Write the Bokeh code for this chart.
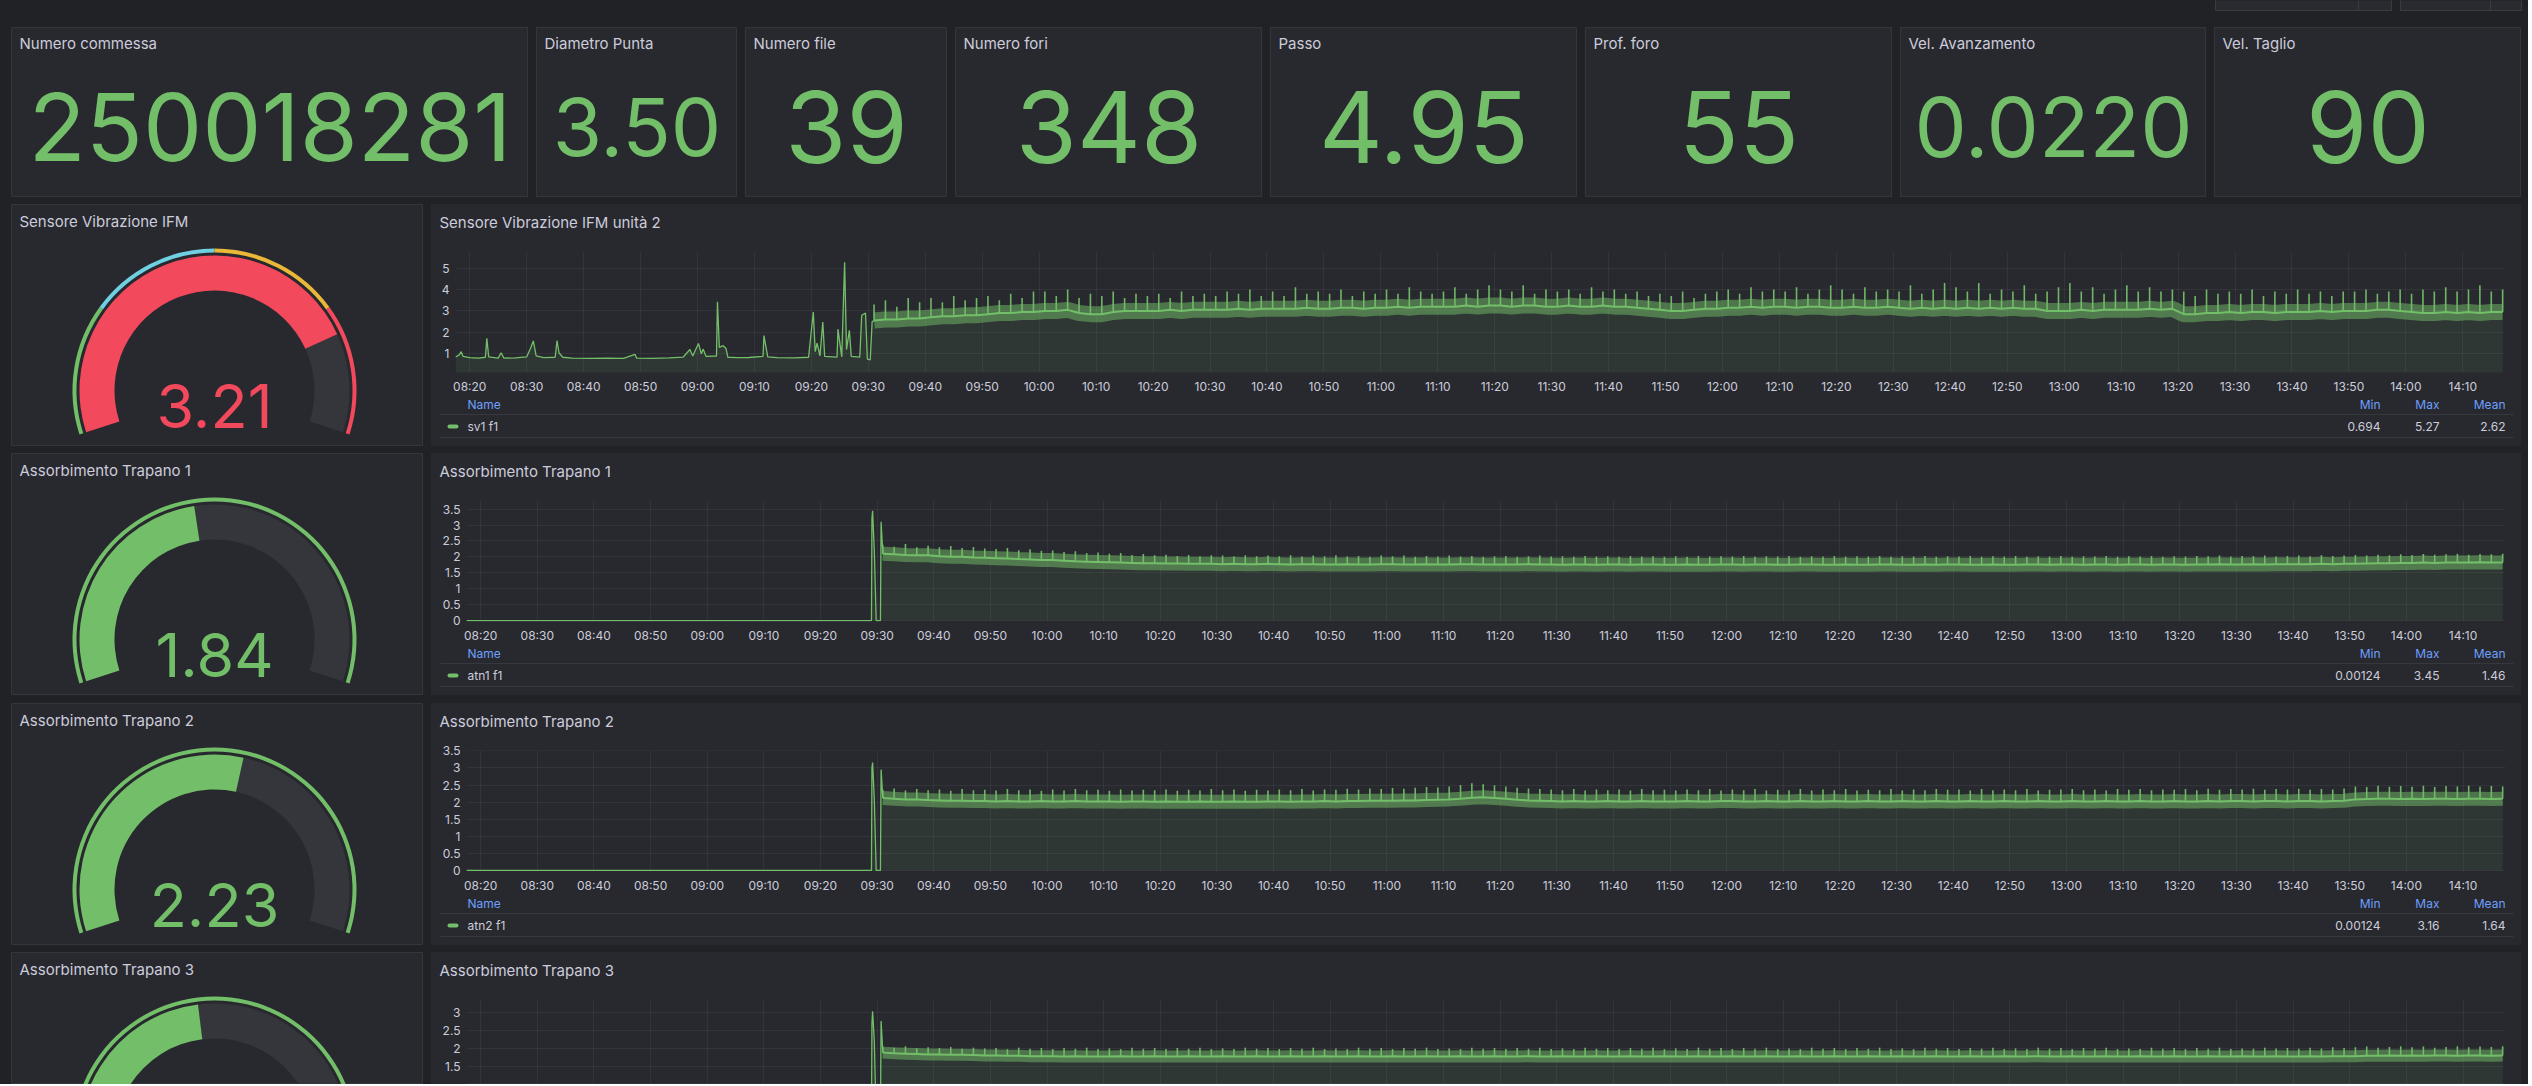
import pandas as pd
from bokeh.plotting import figure
from bokeh.models import (Range1d, FixedTicker, DatetimeTickFormatter,
                          NumeralTickFormatter, Spacer)
from bokeh.layouts import row, column
from bokeh.core.properties import value
from bokeh.embed import file_html
from bokeh.resources import INLINE

# ------------------------------------------------------------------ data
stat_titles = ["Numero commessa", "Diametro Punta", "Numero file", "Numero fori",
               "Passo", "Prof. foro", "Vel. Avanzamento", "Vel. Taglio"]
stat_values = ["250018281", "3.50", "39", "348", "4.95", "55", "0.0220", "90"]

gauge_titles = ["Sensore Vibrazione IFM", "Assorbimento Trapano 1",
                "Assorbimento Trapano 2", "Assorbimento Trapano 3"]
gauge_values = [3.21, 1.84, 2.23, 1.87]
gauge_min, gauge_max = 0.0, 4.0
vib_thresholds = [0, 1, 2, 3, 4]
drill_thresholds = [0, 4]

ts_titles = ["Sensore Vibrazione IFM unità 2", "Assorbimento Trapano 1",
             "Assorbimento Trapano 2", "Assorbimento Trapano 3"]
series_names = ["sv1 f1", "atn1 f1", "atn2 f1", "atn3 f1"]
legend_min = ["0.694", "0.00124", "0.00124"]
legend_max = ["5.27", "3.45", "3.16"]
legend_mean = ["2.62", "1.46", "1.64"]

time_start, time_end = "08:17:30", "14:17:30"
time_ticks = ["08:20", "08:30", "08:40", "08:50", "09:00", "09:10", "09:20", "09:30",
              "09:40", "09:50", "10:00", "10:10", "10:20", "10:30", "10:40", "10:50",
              "11:00", "11:10", "11:20", "11:30", "11:40", "11:50", "12:00", "12:10",
              "12:20", "12:30", "12:40", "12:50", "13:00", "13:10", "13:20", "13:30",
              "13:40", "13:50", "14:00", "14:10"]

# sv1 f1 before the machine started (explicit read points, incl. spikes)
sv1_pre_times = ["08:17:30", "08:18:10", "08:18:30", "08:18:50", "08:20:00", "08:21:30",
                 "08:22:45", "08:23:00", "08:23:20", "08:25:00", "08:25:30", "08:26:00",
                 "08:28:00", "08:30:00", "08:30:40", "08:31:10", "08:31:40", "08:33:00",
                 "08:35:00", "08:35:20", "08:35:40", "08:36:20", "08:38:00", "08:41:00",
                 "08:44:00", "08:47:00", "08:49:00", "08:49:20", "08:52:00", "08:55:00",
                 "08:57:30", "08:58:40", "08:59:10", "09:00:10", "09:00:40", "09:01:00",
                 "09:01:30", "09:03:20", "09:03:30", "09:03:50", "09:04:30", "09:05:00",
                 "09:05:20", "09:07:00", "09:09:00", "09:11:30", "09:11:40", "09:12:00",
                 "09:12:20", "09:14:00", "09:17:00", "09:19:30", "09:20:20", "09:20:40",
                 "09:21:00", "09:21:30", "09:22:00", "09:22:20", "09:24:30", "09:24:40",
                 "09:25:00", "09:25:20", "09:25:50", "09:26:10", "09:26:40", "09:27:00",
                 "09:28:30", "09:28:50", "09:29:30", "09:29:50", "09:30:20", "09:30:40",
                 "09:31:00"]
sv1_pre_values = [0.85, 0.95, 1.10, 0.88, 0.82, 0.80,
                  0.84, 1.72, 0.86, 0.80, 1.05, 0.80,
                  0.81, 0.86, 1.25, 1.60, 0.90, 0.82,
                  0.84, 1.62, 1.05, 0.84, 0.80, 0.79,
                  0.80, 0.79, 0.98, 0.80, 0.79, 0.81,
                  0.85, 1.20, 0.90, 1.48, 1.00, 1.22,
                  0.88, 0.90, 3.43, 1.30, 1.38, 1.25,
                  0.84, 0.82, 0.83, 0.88, 1.85, 1.35,
                  0.86, 0.82, 0.81, 0.84, 2.95, 1.10,
                  1.50, 0.90, 2.48, 0.88, 0.85, 2.15,
                  1.50, 0.86, 5.27, 1.20, 2.10, 0.88,
                  0.85, 2.80, 2.90, 0.75, 0.72, 2.50,
                  2.55]

# drills: idle at zero then start-up spikes
drill_start_times = ["08:17:30", "09:29:00", "09:29:05", "09:29:12", "09:29:30",
                     "09:29:50", "09:30:35", "09:30:42", "09:31:00"]
atn1_start_values = [0.0, 0.0, 3.20, 3.45, 2.20, 0.0, 0.0, 3.10, 2.10]
atn2_start_values = [0.0, 0.0, 3.00, 3.16, 2.10, 0.0, 0.0, 2.95, 2.12]
atn3_start_values = [0.0, 0.0, 2.70, 3.05, 2.20, 0.0, 0.0, 2.77, 1.88]

# running phase, one reading every 2 minutes from 09:31 (band centre and spike tops)
run_start, run_step = "09:31:00", "2min"
sv1_band = [2.55, 2.6, 2.6, 2.65, 2.65, 2.7, 2.75, 2.75, 2.8, 2.8,
            2.85, 2.9, 2.9, 2.95, 2.95, 3.0, 3.0, 3.05, 2.9, 2.85,
            2.85, 2.95, 3.0, 3.0, 3.0, 3.0, 3.05, 3.0, 3.05, 3.05,
            3.05, 3.05, 3.1, 3.05, 3.1, 3.1, 3.1, 3.1, 3.15, 3.1,
            3.1, 3.15, 3.15, 3.1, 3.15, 3.15, 3.2, 3.15, 3.2, 3.2,
            3.2, 3.2, 3.25, 3.2, 3.25, 3.25, 3.2, 3.25, 3.25, 3.2,
            3.2, 3.25, 3.2, 3.2, 3.25, 3.2, 3.2, 3.15, 3.1, 3.05,
            3.0, 3.0, 3.05, 3.1, 3.1, 3.15, 3.15, 3.2, 3.15, 3.2,
            3.2, 3.15, 3.2, 3.2, 3.15, 3.15, 3.2, 3.15, 3.15, 3.2,
            3.15, 3.1, 3.15, 3.1, 3.15, 3.1, 3.15, 3.1, 3.15, 3.1,
            3.15, 3.1, 3.1, 3.0, 3.0, 3.0, 3.05, 3.0, 3.05, 3.05,
            3.05, 3.05, 3.1, 3.05, 3.1, 2.85, 2.85, 2.9, 2.9, 2.95,
            2.9, 2.95, 2.95, 2.9, 2.95, 2.95, 2.95, 3.0, 2.95, 3.0,
            3.0, 3.0, 3.05, 3.05, 3.0, 2.95, 2.9, 2.9, 2.95, 2.9,
            2.95, 2.9, 2.95, 2.95]
sv1_peak = [3.3, 3.5, 3.2, 3.6, 3.4, 3.6, 3.4, 3.7, 3.5, 3.6,
            3.7, 3.5, 3.8, 3.6, 3.9, 3.9, 3.7, 4.0, 3.6, 3.8,
            3.7, 3.9, 3.6, 3.8, 3.7, 3.8, 3.6, 3.9, 3.7, 3.8,
            3.7, 3.9, 3.8, 4.0, 3.7, 3.9, 3.7, 4.1, 3.8, 3.9,
            3.8, 4.0, 3.7, 3.9, 3.8, 4.0, 3.8, 4.1, 3.9, 3.8,
            3.9, 4.1, 3.8, 4.0, 4.2, 4.0, 3.9, 4.2, 3.8, 4.0,
            3.9, 4.0, 3.8, 4.1, 3.9, 4.0, 3.8, 3.9, 3.7, 3.8,
            3.7, 3.9, 3.6, 3.8, 3.9, 4.0, 3.8, 4.1, 3.9, 4.0,
            3.9, 4.1, 3.8, 4.0, 4.2, 4.0, 3.8, 4.1, 3.9, 4.0,
            3.9, 4.2, 3.8, 4.0, 4.3, 4.1, 3.9, 4.3, 3.8, 4.0,
            3.9, 4.2, 3.8, 3.9, 4.1, 4.3, 3.9, 4.1, 3.8, 4.0,
            4.2, 3.9, 4.1, 3.9, 4.0, 3.9, 3.7, 4.0, 3.8, 3.9,
            3.8, 4.0, 3.7, 3.9, 3.8, 4.0, 3.8, 3.9, 3.7, 3.9,
            3.9, 4.0, 3.8, 3.9, 4.0, 3.8, 4.0, 3.9, 4.1, 3.9,
            4.0, 4.2, 3.9, 4.0]
atn1_band = [2.10, 2.08, 2.06, 2.05, 2.05, 2.02, 2.00, 2.00, 1.98, 1.97,
             1.96, 1.95, 1.93, 1.92, 1.90, 1.90, 1.88, 1.86, 1.85, 1.84,
             1.83, 1.82, 1.81, 1.80, 1.80, 1.79, 1.79, 1.78, 1.78, 1.78,
             1.77, 1.78, 1.77, 1.77, 1.78, 1.77, 1.76, 1.77, 1.77, 1.76,
             1.76, 1.77, 1.76, 1.76, 1.77, 1.77, 1.76, 1.76, 1.77, 1.76,
             1.76, 1.77, 1.77, 1.76, 1.76, 1.76, 1.76, 1.77, 1.76, 1.76,
             1.75, 1.76, 1.76, 1.75, 1.76, 1.76, 1.75, 1.76, 1.76, 1.75,
             1.75, 1.76, 1.75, 1.75, 1.76, 1.76, 1.75, 1.76, 1.76, 1.75,
             1.75, 1.76, 1.76, 1.75, 1.75, 1.76, 1.75, 1.75, 1.76, 1.76,
             1.75, 1.75, 1.76, 1.75, 1.76, 1.76, 1.75, 1.75, 1.76, 1.75,
             1.75, 1.76, 1.76, 1.75, 1.76, 1.76, 1.75, 1.76, 1.76, 1.75,
             1.76, 1.76, 1.75, 1.76, 1.76, 1.75, 1.76, 1.76, 1.77, 1.76,
             1.76, 1.77, 1.76, 1.77, 1.77, 1.77, 1.77, 1.78, 1.77, 1.78,
             1.78, 1.79, 1.80, 1.80, 1.81, 1.81, 1.82, 1.81, 1.82, 1.82,
             1.82, 1.83, 1.82, 1.82]
atn1_peak = [2.38, 2.32, 2.40, 2.30, 2.35, 2.30, 2.34, 2.28, 2.31, 2.26,
             2.25, 2.28, 2.21, 2.24, 2.19, 2.20, 2.15, 2.18, 2.12, 2.14,
             2.10, 2.12, 2.06, 2.09, 2.05, 2.07, 2.03, 2.06, 2.02, 2.05,
             2.04, 2.01, 2.05, 2.02, 2.04, 2.02, 2.05, 2.01, 2.04, 2.02,
             2.05, 2.01, 2.03, 2.00, 2.04, 2.02, 2.04, 2.00, 2.03, 2.01,
             2.04, 2.01, 2.03, 2.00, 2.02, 2.03, 2.00, 2.02, 2.04, 2.01,
             2.02, 2.00, 2.03, 2.01, 2.02, 2.00, 2.03, 2.01, 2.02, 2.00,
             2.02, 2.00, 2.03, 2.01, 2.02, 2.01, 2.03, 2.00, 2.02, 2.01,
             2.03, 2.00, 2.02, 2.01, 2.03, 2.00, 2.02, 2.01, 2.03, 2.00,
             2.02, 2.01, 2.03, 2.00, 2.02, 2.01, 2.03, 2.00, 2.02, 2.01,
             2.03, 2.00, 2.02, 2.01, 2.03, 2.00, 2.02, 2.01, 2.03, 2.00,
             2.02, 2.01, 2.03, 2.00, 2.02, 2.01, 2.03, 2.02, 2.04, 2.01,
             2.03, 2.02, 2.04, 2.01, 2.03, 2.04, 2.02, 2.05, 2.03, 2.04,
             2.06, 2.04, 2.07, 2.05, 2.08, 2.06, 2.09, 2.07, 2.08, 2.10,
             2.07, 2.09, 2.08, 2.10]
atn2_band = [2.12, 2.10, 2.08, 2.08, 2.06, 2.05, 2.04, 2.04, 2.03, 2.03,
             2.02, 2.03, 2.02, 2.02, 2.03, 2.02, 2.02, 2.03, 2.02, 2.02,
             2.02, 2.01, 2.02, 2.02, 2.01, 2.02, 2.01, 2.01, 2.02, 2.01,
             2.01, 2.02, 2.01, 2.01, 2.02, 2.02, 2.01, 2.02, 2.02, 2.03,
             2.02, 2.03, 2.03, 2.04, 2.04, 2.04, 2.05, 2.05, 2.06, 2.07,
             2.08, 2.10, 2.13, 2.14, 2.12, 2.10, 2.07, 2.05, 2.04, 2.03,
             2.02, 2.03, 2.02, 2.02, 2.03, 2.02, 2.02, 2.03, 2.02, 2.02,
             2.02, 2.03, 2.02, 2.02, 2.03, 2.03, 2.02, 2.02, 2.03, 2.02,
             2.02, 2.03, 2.02, 2.02, 2.03, 2.02, 2.02, 2.03, 2.02, 2.02,
             2.03, 2.02, 2.02, 2.03, 2.02, 2.02, 2.03, 2.02, 2.02, 2.03,
             2.02, 2.02, 2.03, 2.02, 2.02, 2.03, 2.02, 2.02, 2.03, 2.02,
             2.02, 2.03, 2.02, 2.02, 2.03, 2.02, 2.02, 2.03, 2.02, 2.03,
             2.03, 2.02, 2.03, 2.03, 2.02, 2.03, 2.03, 2.02, 2.03, 2.04,
             2.08, 2.09, 2.10, 2.10, 2.09, 2.10, 2.09, 2.10, 2.10, 2.09,
             2.10, 2.10, 2.09, 2.10]
atn2_peak = [2.36, 2.40, 2.34, 2.38, 2.35, 2.37, 2.33, 2.38, 2.35, 2.36,
             2.34, 2.38, 2.35, 2.37, 2.33, 2.37, 2.34, 2.38, 2.35, 2.36,
             2.33, 2.37, 2.34, 2.36, 2.35, 2.37, 2.33, 2.36, 2.34, 2.38,
             2.35, 2.37, 2.33, 2.36, 2.34, 2.37, 2.35, 2.38, 2.34, 2.37,
             2.36, 2.39, 2.37, 2.40, 2.38, 2.41, 2.39, 2.42, 2.44, 2.43,
             2.46, 2.50, 2.55, 2.52, 2.49, 2.46, 2.42, 2.40, 2.38, 2.37,
             2.35, 2.38, 2.34, 2.37, 2.35, 2.37, 2.34, 2.38, 2.35, 2.36,
             2.34, 2.37, 2.35, 2.38, 2.34, 2.37, 2.35, 2.38, 2.34, 2.36,
             2.35, 2.38, 2.34, 2.37, 2.35, 2.38, 2.34, 2.36, 2.35, 2.38,
             2.34, 2.37, 2.35, 2.38, 2.36, 2.37, 2.34, 2.38, 2.35, 2.37,
             2.35, 2.38, 2.34, 2.36, 2.37, 2.38, 2.35, 2.37, 2.34, 2.38,
             2.36, 2.38, 2.35, 2.37, 2.36, 2.38, 2.35, 2.39, 2.36, 2.38,
             2.37, 2.39, 2.36, 2.38, 2.37, 2.39, 2.36, 2.38, 2.37, 2.40,
             2.46, 2.44, 2.48, 2.45, 2.47, 2.45, 2.48, 2.44, 2.47, 2.46,
             2.48, 2.45, 2.47, 2.46]
atn3_band = [1.88, 1.86, 1.85, 1.84, 1.83, 1.83, 1.82, 1.82, 1.81, 1.80,
             1.80, 1.79, 1.79, 1.78, 1.78, 1.78, 1.77, 1.78, 1.77, 1.77,
             1.77, 1.78, 1.77, 1.77, 1.78, 1.77, 1.77, 1.78, 1.77, 1.77,
             1.78, 1.77, 1.77, 1.78, 1.77, 1.77, 1.78, 1.77, 1.77, 1.78,
             1.77, 1.77, 1.78, 1.77, 1.77, 1.78, 1.77, 1.77, 1.78, 1.77,
             1.77, 1.78, 1.77, 1.77, 1.78, 1.77, 1.77, 1.78, 1.77, 1.77,
             1.78, 1.77, 1.77, 1.78, 1.77, 1.77, 1.78, 1.77, 1.77, 1.78,
             1.77, 1.77, 1.78, 1.77, 1.77, 1.78, 1.77, 1.77, 1.78, 1.77,
             1.77, 1.78, 1.77, 1.77, 1.78, 1.77, 1.77, 1.78, 1.77, 1.77,
             1.78, 1.77, 1.77, 1.78, 1.77, 1.77, 1.78, 1.77, 1.77, 1.78,
             1.77, 1.77, 1.78, 1.77, 1.77, 1.78, 1.77, 1.77, 1.78, 1.77,
             1.77, 1.78, 1.77, 1.77, 1.78, 1.77, 1.77, 1.78, 1.77, 1.77,
             1.78, 1.77, 1.77, 1.78, 1.77, 1.77, 1.78, 1.77, 1.78, 1.78,
             1.78, 1.79, 1.79, 1.80, 1.79, 1.80, 1.79, 1.80, 1.80, 1.79,
             1.80, 1.80, 1.79, 1.80]
atn3_peak = [2.05, 2.02, 2.06, 2.00, 2.03, 2.01, 2.04, 1.99, 2.02, 2.00,
             2.01, 1.98, 2.02, 1.99, 2.01, 1.98, 2.01, 1.99, 2.02, 1.98,
             2.00, 1.98, 2.02, 1.99, 2.01, 1.98, 2.01, 1.99, 2.02, 1.98,
             2.00, 1.98, 2.02, 1.99, 2.01, 1.98, 2.01, 1.99, 2.02, 1.98,
             2.00, 1.98, 2.02, 1.99, 2.01, 1.98, 2.01, 1.99, 2.02, 1.98,
             2.00, 1.98, 2.02, 1.99, 2.01, 1.98, 2.01, 1.99, 2.02, 1.98,
             2.00, 1.98, 2.02, 1.99, 2.01, 1.98, 2.01, 1.99, 2.02, 1.98,
             2.00, 1.98, 2.02, 1.99, 2.01, 1.98, 2.01, 1.99, 2.02, 1.98,
             2.00, 1.98, 2.02, 1.99, 2.01, 1.98, 2.01, 1.99, 2.02, 1.98,
             2.00, 1.98, 2.02, 1.99, 2.01, 1.98, 2.01, 1.99, 2.02, 1.98,
             2.00, 1.98, 2.02, 1.99, 2.01, 1.98, 2.01, 1.99, 2.02, 1.98,
             2.00, 1.98, 2.02, 1.99, 2.01, 1.98, 2.01, 1.99, 2.02, 1.98,
             2.00, 1.99, 2.02, 2.00, 2.01, 1.99, 2.02, 2.00, 2.03, 2.01,
             2.03, 2.05, 2.02, 2.04, 2.06, 2.03, 2.05, 2.02, 2.04, 2.06,
             2.03, 2.05, 2.04, 2.06]

# ------------------------------------------------------------------ style
FONT = "Inter"
BG = "#212226"
PANEL = "#28292e"
BORDER = "#34363b"
TEXT = "#ccccdc"
LINK = "#6e9fff"
GREEN = "#73BF69"
CYAN = "#6ED0E0"
YELLOW = "#EAB839"
RED = "#F2495C"
ARC_BG = "#34363c"
SEP = "#36383e"
BTN = "#2a2b30"
BTN_BORDER = "#3a3c42"
DAY = "2025-01-15 "


def to_ms(hms):
    return pd.Timestamp(DAY + hms).value / 1e6


def pix_fig(w, h, border=True, fill=PANEL):
    p = figure(width=w, height=h, x_range=Range1d(0, w), y_range=Range1d(0, h),
               toolbar_location=None, output_backend="svg", title_location=None,
               x_axis_location=None, y_axis_location=None, min_border=0,
               background_fill_color=fill, border_fill_color=fill,
               outline_line_color=BORDER if border else None)
    p.grid.visible = False
    return p


def add_text(p, x, y, s, size, color, align="left", baseline="middle"):
    p.text(x=[x], y=[y], text=[s], text_font=value(FONT),
           text_font_size=value(f"{size}px"), text_color=color,
           text_align=align, text_baseline=baseline)


def stat_panel(title, val, w, fs):
    h = 170
    p = pix_fig(w, h)
    add_text(p, 8, h - 16, title, 15, TEXT)
    add_text(p, w / 2, h - 99, val, fs, GREEN, align="center")
    return p


def thr_color(v, thresholds, colors):
    c = colors[0]
    for t, col in zip(thresholds[:-1], colors):
        if v >= t:
            c = col
    return c


def gauge_panel(title, val, thresholds, colors, h, show_value=True):
    w = 412
    p = pix_fig(w, h)
    add_text(p, 8, h - 16.5, title, 15, TEXT)
    cx, cy = 203, h - 186

    def ang(v):
        return 198 - (v - gauge_min) / (gauge_max - gauge_min) * 216

    for i in range(len(thresholds) - 1):
        p.annular_wedge(x=cx, y=cy, inner_radius=138, outer_radius=142,
                        start_angle=ang(thresholds[i + 1]), end_angle=ang(thresholds[i]),
                        start_angle_units="deg", end_angle_units="deg",
                        color=colors[i], line_color=None)
    p.annular_wedge(x=cx, y=cy, inner_radius=100, outer_radius=135,
                    start_angle=ang(gauge_max), end_angle=ang(val),
                    start_angle_units="deg", end_angle_units="deg",
                    color=ARC_BG, line_color=None)
    vc = thr_color(val, thresholds, colors)
    p.annular_wedge(x=cx, y=cy, inner_radius=100, outer_radius=135,
                    start_angle=ang(val), end_angle=ang(gauge_min),
                    start_angle_units="deg", end_angle_units="deg",
                    color=vc, line_color=None)
    if show_value:
        add_text(p, cx, h - 201, f"{val:.2f}", 61, vc, align="center")
    return p


TS_W = 2090
MBR = 16
X0, X1 = to_ms(time_start), to_ms(time_end)
tick_ms = [to_ms(t + ":00") for t in time_ticks]


def style_axis(ax):
    ax.axis_line_color = None
    ax.major_tick_line_color = None
    ax.minor_tick_line_color = None
    ax.major_tick_out = 0
    ax.major_tick_in = 0
    ax.major_label_text_color = TEXT
    ax.major_label_text_font = FONT
    ax.major_label_text_font_size = "12px"
    ax.major_label_standoff = 6


def chart_fig(h, mbl, mbb, yr, yticks, gticks, show_x):
    p = figure(width=TS_W, height=h, x_axis_type="datetime",
               x_range=Range1d(X0, X1), y_range=Range1d(*yr),
               toolbar_location=None, output_backend="svg", title_location=None,
               x_axis_location="below" if show_x else None,
               min_border_left=mbl, min_border_right=MBR, min_border_top=8,
               min_border_bottom=mbb,
               background_fill_color=PANEL, border_fill_color=PANEL,
               outline_line_color=None)
    xt = FixedTicker(ticks=tick_ms)
    if show_x:
        ax = p.xaxis[0]
        ax.ticker = xt
        ax.formatter = DatetimeTickFormatter(
            seconds="%H:%M", minsec="%H:%M", minutes="%H:%M",
            hourmin="%H:%M", hours="%H:%M", days="%H:%M")
        style_axis(ax)
    ay = p.yaxis[0]
    ay.ticker = FixedTicker(ticks=yticks)
    ay.formatter = NumeralTickFormatter(format="0.[0]")
    style_axis(ay)
    p.xgrid.ticker = xt
    p.ygrid.ticker = FixedTicker(ticks=gticks)
    p.grid.grid_line_color = "#ccccdc"
    p.grid.grid_line_alpha = 0.07
    return p


def draw_series(p, pre_t, pre_v, band, peak, band_w):
    pt = [to_ms(t) for t in pre_t]
    n = min(len(band), len(peak))
    rt = [t.value / 1e6 for t in pd.date_range(DAY + run_start, periods=n, freq=run_step)]
    band, peak = band[:n], peak[:n]
    p.varea(x=pt, y1=0, y2=pre_v, fill_color=GREEN, fill_alpha=0.1)
    p.varea(x=rt, y1=0, y2=band, fill_color=GREEN, fill_alpha=0.1)
    p.line(pt, pre_v, line_color=GREEN, line_width=1.3)
    p.line(rt, band, line_color=GREEN, line_width=band_w, line_alpha=0.5)
    p.segment(x0=rt, y0=band, x1=rt, y1=peak, line_color=GREEN, line_width=1.6,
              line_alpha=0.95)
    p.line(rt, band, line_color=GREEN, line_width=2)


def header_fig(title):
    h = 39
    p = pix_fig(TS_W, h, border=False)
    add_text(p, 8, h - 17.5, title, 15, TEXT)
    return p


def legend_fig(name, mn, mx, me):
    h = 50
    p = pix_fig(TS_W, h, border=False)
    p.segment(x0=[9, 9], y0=[h - 18, h - 41], x1=[2082, 2082], y1=[h - 18, h - 41],
              line_color=SEP, line_width=1)
    p.line([18, 25], [h - 30, h - 30], line_color=GREEN, line_width=4, line_cap="round")
    add_text(p, 36, h - 7.5, "Name", 12, LINK)
    add_text(p, 36, h - 30, name, 12, TEXT)
    for hdr, v, xr in zip(["Min", "Max", "Mean"], [mn, mx, me], [1949, 2008, 2074]):
        add_text(p, xr, h - 7.5, hdr, 12, LINK, align="right")
        add_text(p, xr, h - 30, v, 12, TEXT, align="right")
    return p


def top_strip():
    w, h = 2528, 27
    p = pix_fig(w, h, border=False, fill=BG)
    # top-right time picker / refresh buttons (scrolled mostly out of view)
    p.quad(left=[2215, 2400], right=[2391, 2521], bottom=[h - 10, h - 10],
           top=[h + 20, h + 20], fill_color=BTN, line_color=BTN_BORDER, line_width=1)
    p.segment(x0=[2358, 2490], y0=[h - 10, h - 10], x1=[2358, 2490], y1=[h, h],
              line_color=BTN_BORDER, line_width=1)
    return p


# ------------------------------------------------------------------ build
stat_w = [517, 201, 202, 307, 307, 307, 306, 307]
stat_fs = [94, 80, 99, 99, 99, 99, 83, 99]

top_children = [Spacer(width=11, height=170)]
for i, (t, v) in enumerate(zip(stat_titles, stat_values)):
    if i:
        top_children.append(Spacer(width=8, height=170))
    top_children.append(stat_panel(t, v, stat_w[i], stat_fs[i]))
top_row = row(*top_children, styles={"background-color": BG})

row_cfg = [
    dict(yr=(0.13, 5.77), yticks=[1, 2, 3, 4, 5], gticks=[1, 2, 3, 4, 5], mbl=24, bw=16,
         pre_t=sv1_pre_times, pre_v=sv1_pre_values, band=sv1_band, peak=sv1_peak,
         thr=vib_thresholds, cols=[GREEN, CYAN, YELLOW, RED]),
    dict(yr=(-0.03, 3.77), yticks=[0, 0.5, 1, 1.5, 2, 2.5, 3, 3.5],
         gticks=[0, 0.5, 1, 1.5, 2, 2.5, 3, 3.5], mbl=35, bw=14,
         pre_t=drill_start_times, pre_v=atn1_start_values, band=atn1_band, peak=atn1_peak,
         thr=drill_thresholds, cols=[GREEN]),
    dict(yr=(-0.03, 3.51), yticks=[0, 0.5, 1, 1.5, 2, 2.5, 3, 3.5],
         gticks=[0, 0.5, 1, 1.5, 2, 2.5, 3, 3.5], mbl=35, bw=14,
         pre_t=drill_start_times, pre_v=atn2_start_values, band=atn2_band, peak=atn2_peak,
         thr=drill_thresholds, cols=[GREEN]),
    dict(yr=(0.98, 3.38), yticks=[1.5, 2, 2.5, 3], gticks=[1, 1.5, 2, 2.5, 3], mbl=35,
         bw=12, pre_t=drill_start_times, pre_v=atn3_start_values, band=atn3_band,
         peak=atn3_peak, thr=drill_thresholds, cols=[GREEN]),
]

rows = []
for k, cfg in enumerate(row_cfg):
    full = k < 3
    ph = 242 if full else 132
    g = gauge_panel(gauge_titles[k], gauge_values[k], cfg["thr"], cfg["cols"], ph,
                    show_value=full)
    hdr = header_fig(ts_titles[k])
    if full:
        ch = chart_fig(153, cfg["mbl"], 22, cfg["yr"], cfg["yticks"], cfg["gticks"], True)
    else:
        ch = chart_fig(ph - 39, cfg["mbl"], 0, cfg["yr"], cfg["yticks"], cfg["gticks"],
                       False)
    draw_series(ch, cfg["pre_t"], cfg["pre_v"], cfg["band"], cfg["peak"], cfg["bw"])
    # header and legend wrapped in their own rows so their frames stay full width
    parts = [row(hdr), ch]
    if full:
        parts.append(row(legend_fig(series_names[k], legend_min[k], legend_max[k],
                                    legend_mean[k])))
    ts_col = column(*parts, styles={"background-color": PANEL})
    rows.append(row(Spacer(width=11, height=ph), g, Spacer(width=8, height=ph), ts_col,
                    styles={"background-color": BG}))

layout = column(
    top_strip(),
    top_row,
    Spacer(width=2528, height=7),
    rows[0],
    Spacer(width=2528, height=7),
    rows[1],
    Spacer(width=2528, height=8),
    rows[2],
    Spacer(width=2528, height=7),
    rows[3],
    styles={"background-color": BG},
)

html = file_html(layout, INLINE, title="Dashboard")
html = html.replace("<body>", '<body style="background-color:%s;">' % BG, 1)
open("out.html", "w", encoding="utf-8").write(html)
